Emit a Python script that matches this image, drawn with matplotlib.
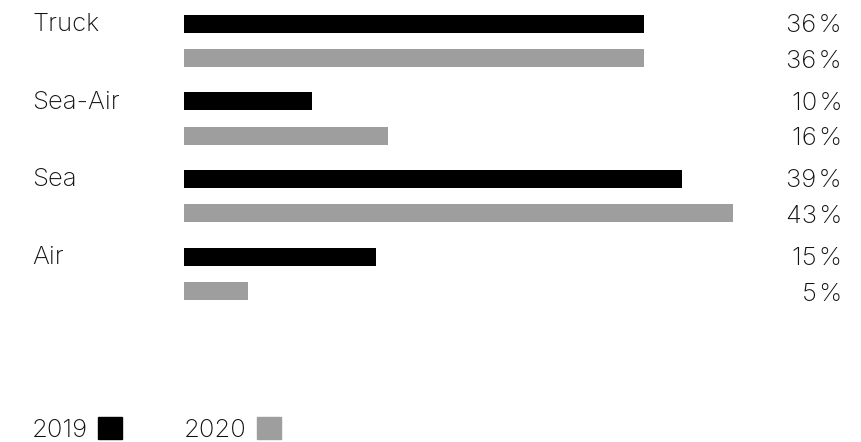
import numpy as np
import matplotlib.pyplot as plt
from matplotlib.patches import Patch

categories = ['Truck', 'Sea-Air', 'Sea', 'Air']
share_2019 = [36, 10, 39, 15]
share_2020 = [36, 16, 43, 5]
years = ['2019', '2020']

plt.rcParams.update({'font.family': ['Inter', 'DejaVu Sans'], 'font.size': 18.5,
                     'font.weight': 'light'})

col_2019 = '#000000'
col_2020 = '#9e9e9e'
txt = '#111111'

W, H = 861, 442
fig = plt.figure(figsize=(W / 100, H / 100), dpi=100)
# axes spans bar area horizontally, full height vertically (pixel units on y)
ax = fig.add_axes([184 / W, 0, (733 - 184) / W, 1])
ax.set_xlim(0, 43)
ax.set_ylim(H, 0)
ax.axis('off')

group_gap = 77.7
top = 23.5
pair_gap = 34.5
bar_h = 18

y19 = top + np.arange(len(categories)) * group_gap
y20 = y19 + pair_gap

ax.barh(y19, share_2019, height=bar_h, color=col_2019, left=0)
ax.barh(y20, share_2020, height=bar_h, color=col_2020, left=0)

for name, a, b, v19, v20 in zip(categories, y19, y20, share_2019, share_2020):
    fig.text(32 / W, 1 - (a + 1) / H, name, ha='left', va='center', color=txt)
    fig.text(842 / W, 1 - (a + 2) / H, '%d\u200a%%' % v19, ha='right', va='center', color=txt)
    fig.text(842 / W, 1 - (b + 3) / H, '%d\u200a%%' % v20, ha='right', va='center', color=txt)

handles = [Patch(color=col_2019), Patch(color=col_2020)]
leg = fig.legend(handles, years, loc='lower left', bbox_to_anchor=(14 / W, -18 / H),
                 ncol=2, frameon=False, markerfirst=False, handlelength=0.93,
                 handleheight=0.93, handletextpad=0.4, columnspacing=2.4,
                 borderpad=0.2)
for t in leg.get_texts():
    t.set_color(txt)

fig.savefig('out.png', dpi=100)
